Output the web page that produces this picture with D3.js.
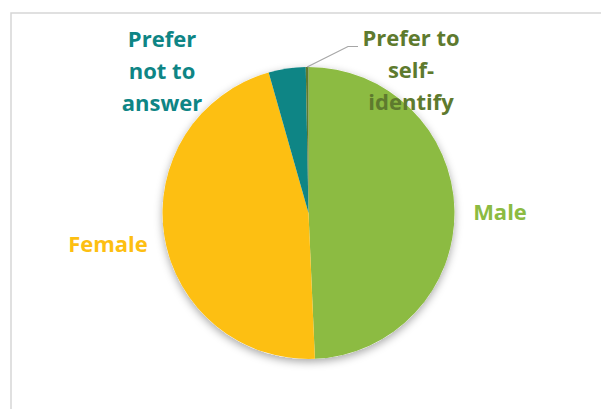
<!DOCTYPE html>
<html>
<head>
<meta charset="utf-8">
<script src="https://cdn.jsdelivr.net/npm/d3@7"></script>
<style>
  body { margin: 0; background: #fff; }
  text { font-family: "Open Sans", Lato, sans-serif; font-weight: bold; }
</style>
</head>
<body>
<svg id="chart" width="601" height="409"></svg>
<script>
// pie data, clockwise from 12 o'clock
const categories = ["Male", "Female", "Prefer not to answer", "Prefer to self-identify"];
const values = [49.3, 46.3, 4.1, 0.3];
const colors = ["#8CBB42", "#FDBF12", "#0E8585", "#5E7A2E"];
const labelLines = [["Male"], ["Female"], ["Prefer", "not to", "answer"], ["Prefer to", "self-", "identify"]];

const cx = 308.5, cy = 213, radius = 146;

const svg = d3.select("#chart");

// soft shadow under the pie
const defs = svg.append("defs");
const filt = defs.append("filter").attr("id", "shadow")
    .attr("x", "-20%").attr("y", "-20%").attr("width", "140%").attr("height", "140%");
filt.append("feDropShadow")
    .attr("dx", 0).attr("dy", 3)
    .attr("stdDeviation", 4)
    .attr("flood-color", "#000")
    .attr("flood-opacity", 0.35);

// chart frame (runs off the right and bottom)
svg.append("rect")
    .attr("x", 11).attr("y", 13)
    .attr("width", 620).attr("height", 420)
    .attr("fill", "#fff")
    .attr("stroke", "#d6d6d6")
    .attr("stroke-width", 1.5);

const data = categories.map((c, i) => ({ name: c, value: values[i], color: colors[i], lines: labelLines[i] }));

const pie = d3.pie().sort(null).value(d => d.value);
const arc = d3.arc().innerRadius(0).outerRadius(radius);
const arcs = pie(data);

const g = svg.append("g").attr("transform", `translate(${cx},${cy})`);

g.append("circle").attr("r", radius).attr("fill", "#fff").attr("filter", "url(#shadow)");

g.selectAll("path.slice")
    .data(arcs)
    .join("path")
    .attr("class", "slice")
    .attr("d", arc)
    .attr("fill", d => d.data.color);

// label positions
const labelPos = [
    { x: 500, y: 212 },
    { x: 108, y: 244 },
    { x: 162, y: 39 },
    { x: 411, y: 38 }
];
const lineGap = 32;
const fontSize = 22;

svg.selectAll("text.lab")
    .data(data)
    .join("text")
    .attr("class", "lab")
    .attr("text-anchor", "middle")
    .attr("font-size", fontSize)
    .attr("fill", d => d.color)
    .each(function (d, i) {
        const t = d3.select(this);
        const p = labelPos[i];
        d.lines.forEach((ln, j) => {
            t.append("tspan")
                .attr("x", p.x)
                .attr("y", p.y + j * lineGap)
                .attr("dy", "0.35em")
                .text(ln);
        });
    });

// leader line for the tiny slice
const tiny = arcs[3];
const mid = (tiny.startAngle + tiny.endAngle) / 2;
const p0 = [cx + Math.sin(mid) * radius, cy - Math.cos(mid) * radius];
svg.append("polyline")
    .attr("points", [p0, [348, 46.5], [358, 46.5]].map(p => p.join(",")).join(" "))
    .attr("fill", "none")
    .attr("stroke", "#a6a6a6")
    .attr("stroke-width", 1.2);
</script>
</body>
</html>
